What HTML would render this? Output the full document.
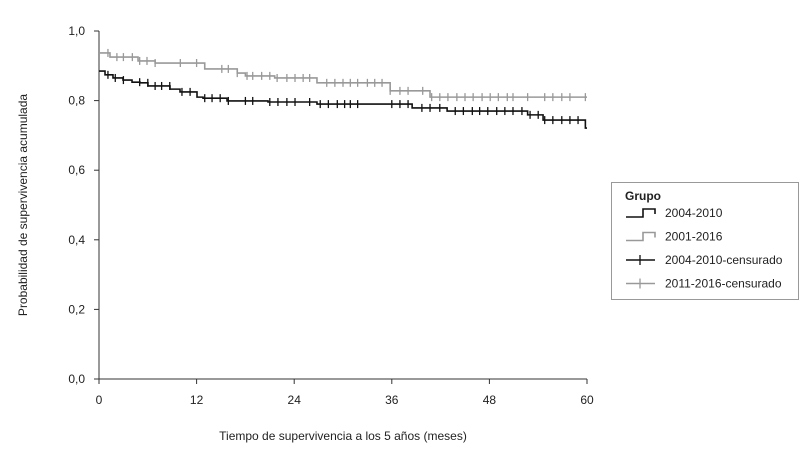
<!DOCTYPE html>
<html><head><meta charset="utf-8"><style>
body{margin:0;background:#fff;}
svg{display:block;font-family:"Liberation Sans",Arial,sans-serif;}
</style></head><body>
<svg id="chart" width="809" height="450"></svg>
<script>
const xTickLabels=[0,12,24,36,48,60];
const yTickValues=[0,0.2,0.4,0.6,0.8,1.0];
const blackTimes=[0,0.74,1.72,2.95,4.06,5.04,6.02,8.73,9.96,12.05,12.79,15.74,20.78,26.8,38.5,42.8,52.7,54.6,59.8];
const blackSurv=[0.885,0.874,0.865,0.859,0.853,0.851,0.842,0.833,0.825,0.810,0.807,0.799,0.796,0.790,0.779,0.770,0.759,0.744,0.721];
const grayTimes=[0,1.35,4.8,6.9,13.0,17.0,18.0,21.6,26.8,35.8,40.7];
const graySurv=[0.937,0.925,0.914,0.908,0.891,0.879,0.871,0.865,0.851,0.828,0.81];
const blackCens=[1.1,2.0,3.0,5.0,6.0,6.9,7.7,8.7,10.2,11.2,13.0,13.9,14.9,15.9,18.0,18.9,21.0,22.0,23.1,24.1,25.9,27.2,28.2,29.3,30.2,30.9,31.8,36.0,37.0,38.0,39.7,40.7,41.9,43.8,44.8,45.9,46.8,47.8,48.9,49.9,50.9,52.0,53.0,54.0,54.8,55.8,56.9,57.9,58.9];
const grayCens=[1.1,2.2,3.0,4.1,5.0,5.9,6.9,10.0,12.0,15.1,15.9,17.0,18.2,18.9,20.0,21.0,21.9,23.1,24.1,25.1,25.9,28.0,29.0,30.0,30.9,31.8,33.0,33.9,34.8,35.8,37.0,38.0,39.8,40.9,41.9,42.9,44.0,45.0,46.0,47.1,48.1,49.1,50.2,50.9,52.7,54.8,55.8,56.9,57.9,59.8];

const NS="http://www.w3.org/2000/svg";
const svg=document.getElementById('chart');
const X0=99,X1=587,Y0=379,Y1=31;
const xs=t=>X0+(X1-X0)*t/60;
const ys=s=>Y0-(Y0-Y1)*s;
function mk(tag,attrs,parent){const e=document.createElementNS(NS,tag);for(const k in attrs)e.setAttribute(k,attrs[k]);(parent||svg).appendChild(e);return e;}
function txt(x,y,s,attrs,parent){const e=mk('text',Object.assign({x:x,y:y,'font-size':12,fill:'#222'},attrs||{}),parent);e.textContent=s;return e;}

// axes
const ax=mk('g',{});


mk('line',{x1:X0,y1:Y1,x2:X0,y2:Y0,stroke:'#333','stroke-width':1},ax);
mk('line',{x1:X0,y1:Y0,x2:X1,y2:Y0,stroke:'#333','stroke-width':1},ax);
yTickValues.forEach(v=>{
  const y=ys(v);
  mk('line',{x1:X0-5,y1:y,x2:X0,y2:y,stroke:'#333'},ax);
  const t=txt(85,y+4,v.toFixed(1).replace('.',','),{'text-anchor':'end'},ax);
  
  
});
xTickLabels.forEach(v=>{
  const x=xs(v);
  mk('line',{x1:x,y1:Y0,x2:x,y2:Y0+5,stroke:'#333'},ax);
  const t=txt(x,Y0+25,String(v),{'text-anchor':'middle'},ax);
  
  
});
const xt=txt(343,440,'Tiempo de supervivencia a los 5 años (meses)',{'text-anchor':'middle'});


const yt=txt(0,0,'Probabilidad de supervivencia acumulada',{'text-anchor':'middle',transform:'translate(27,205) rotate(-90)'});



function stepPath(times,surv,end){
  let d='M'+xs(times[0])+','+ys(surv[0]);
  for(let i=1;i<times.length;i++){d+=' H'+xs(times[i])+' V'+ys(surv[i]);}
  d+=' H'+xs(end);
  return d;
}
function survAt(times,surv,t){let s=surv[0];for(let i=0;i<times.length;i++){if(times[i]<=t)s=surv[i];}return s;}
function drawSeries(times,surv,cens,color,name){
  const g=mk('g',{});
  
  
  const p=mk('path',{d:stepPath(times,surv,60),fill:'none',stroke:color,'stroke-width':1.6},g);
  
  
  cens.forEach(t=>{
    const x=xs(t),y=ys(survAt(times,surv,t));
    const l=mk('line',{x1:x,y1:y-4,x2:x,y2:y+4,stroke:color,'stroke-width':1.3},g);
    
    
  });
}
drawSeries(grayTimes,graySurv,grayCens,'#999','series-2011-2016');
drawSeries(blackTimes,blackSurv,blackCens,'#111','series-2004-2010');

// legend
const lg=mk('g',{});


mk('rect',{x:611.5,y:182.5,width:187,height:117,fill:'#fff',stroke:'#999'},lg);
txt(625,200,'Grupo',{'font-weight':'bold'},lg);
const entries=[['2004-2010','#111','step'],['2001-2016','#999','step'],['2004-2010-censurado','#111','cens'],['2011-2016-censurado','#999','cens']];
entries.forEach((e,i)=>{
  const y=213+i*23.5;
  const g=mk('g',{},lg);
  
  
  if(e[2]==='step'){
    mk('path',{d:`M626,${y+4} H643 V${y-4} H655 V${y+1}`,fill:'none',stroke:e[1],'stroke-width':1.6},g);
  }else{
    mk('line',{x1:626,y1:y,x2:655,y2:y,stroke:e[1],'stroke-width':1.6},g);
    mk('line',{x1:640,y1:y-5,x2:640,y2:y+5,stroke:e[1],'stroke-width':1.3},g);
  }
  txt(665,y+4,e[0],{},g);
});
</script>
</body></html>
